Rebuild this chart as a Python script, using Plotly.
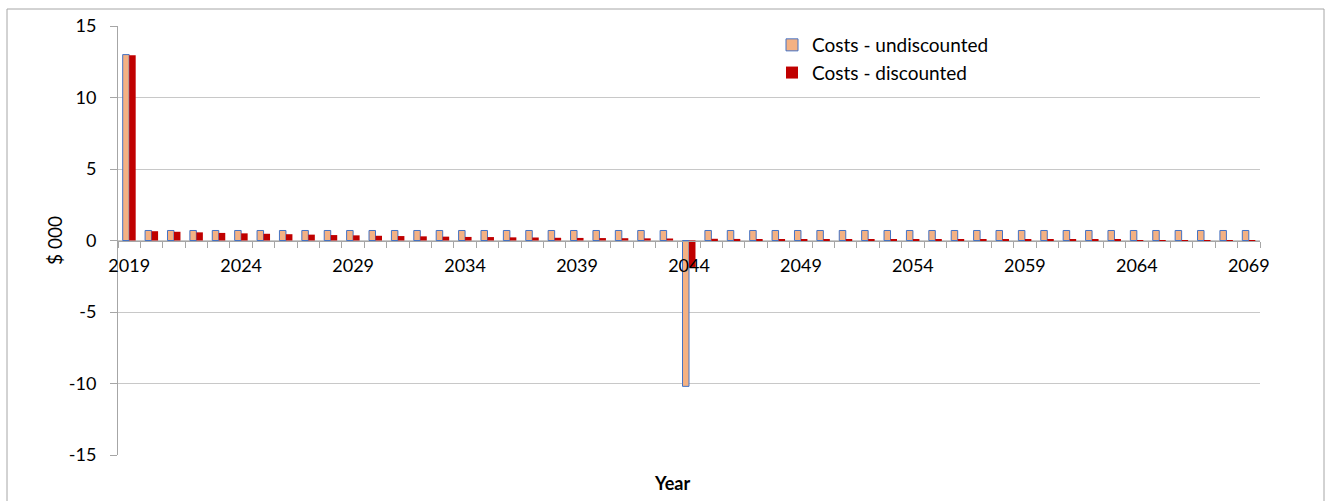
import plotly.graph_objects as go

# Annual costs, $ 000, 2019-2069
years = list(range(2019, 2070))

costs_undiscounted = [
    13.0,
    0.7, 0.7, 0.7, 0.7, 0.7, 0.7, 0.7, 0.7, 0.7, 0.7,
    0.7, 0.7, 0.7, 0.7, 0.7, 0.7, 0.7, 0.7, 0.7, 0.7,
    0.7, 0.7, 0.7, 0.7,
    -10.2,
    0.7, 0.7, 0.7, 0.7, 0.7, 0.7, 0.7, 0.7, 0.7, 0.7,
    0.7, 0.7, 0.7, 0.7, 0.7, 0.7, 0.7, 0.7, 0.7, 0.7,
    0.7, 0.7, 0.7, 0.7, 0.7,
]

costs_discounted = [
    12.95,
    0.65, 0.61, 0.57, 0.53, 0.50, 0.47, 0.44, 0.41, 0.38, 0.36,
    0.33, 0.31, 0.29, 0.27, 0.25, 0.24, 0.22, 0.21, 0.19, 0.18,
    0.17, 0.16, 0.15, 0.14,
    -1.85,
    0.12, 0.11, 0.10, 0.10, 0.09, 0.09, 0.08, 0.07, 0.07, 0.07,
    0.06, 0.06, 0.05, 0.05, 0.05, 0.04, 0.04, 0.04, 0.04, 0.03,
    0.03, 0.03, 0.03, 0.03, 0.02,
]

y_ticks = [-15, -10, -5, 0, 5, 10, 15]
y_tick_text = ["-15", "-10", "-5", "0", "5", "10", "15"]
x_ticks = list(range(2019, 2070, 5))

FONT = "Lato, 'Open Sans', sans-serif"
AXIS_GREY = "#A6A6A6"
GRID_GREY = "#C8C8C8"

fig = go.Figure()
fig.add_trace(go.Bar(
    x=years, y=costs_undiscounted, name="Costs - undiscounted",
    marker=dict(color="#F4B183", line=dict(color="#4472C4", width=1)),
))
fig.add_trace(go.Bar(
    x=years, y=costs_discounted, name="Costs - discounted",
    marker=dict(color="#C00000", line=dict(width=0)),
))

W, H = 1330, 501
L, R, T, B = 118, 70, 26, 46
pw, ph = W - L - R, H - T - B

def px_x(p):
    return (p - L) / pw

def px_y(p):
    return (H - B - p) / ph

fig.update_layout(
    width=W, height=H,
    margin=dict(l=L, r=R, t=T, b=B),
    paper_bgcolor="white", plot_bgcolor="white",
    font=dict(family=FONT, size=18, color="#000000"),
    barmode="group", bargap=0.42, bargroupgap=0.0,
    showlegend=True,
    legend=dict(
        x=px_x(772), y=px_y(26), xanchor="left", yanchor="top",
        bgcolor="rgba(0,0,0,0)", font=dict(family=FONT, size=19),
        tracegroupgap=6, itemwidth=30,
    ),
    xaxis=dict(
        type="linear", range=[2018.5, 2069.5],
        tickvals=x_ticks, ticktext=[str(v) for v in x_ticks],
        ticks="", ticklen=0, ticklabelstandoff=9,
        showgrid=False, zeroline=False,
        showline=True, linecolor=AXIS_GREY, linewidth=1,
        anchor="free", position=0.5,
        minor=dict(dtick=1, tick0=2018.5, ticks="outside", ticklen=6,
                   tickcolor=AXIS_GREY, showgrid=False),
        tickfont=dict(family=FONT, size=18),
    ),
    yaxis=dict(
        range=[-15, 15], tickvals=y_ticks, ticktext=y_tick_text,
        ticks="outside", ticklen=7, tickcolor=AXIS_GREY,
        showgrid=True, gridcolor=GRID_GREY, gridwidth=1,
        zeroline=False, showline=True, linecolor=AXIS_GREY, linewidth=1,
        ticklabelstandoff=10,
        tickfont=dict(family=FONT, size=18),
        title=dict(text="$ 000", font=dict(family=FONT, size=19), standoff=1),
    ),
    annotations=[dict(
        text="<b>Year</b>", xref="paper", yref="paper",
        x=px_x(672), y=px_y(483), xanchor="center", yanchor="middle",
        showarrow=False, font=dict(family=FONT, size=18),
    )],
    shapes=[dict(
        type="rect", xref="paper", yref="paper",
        x0=px_x(7), x1=px_x(1324), y0=px_y(520), y1=px_y(9),
        line=dict(color="#A6A6A6", width=1), fillcolor="rgba(0,0,0,0)",
        layer="below",
    )],
)

fig.write_html("out.html")
